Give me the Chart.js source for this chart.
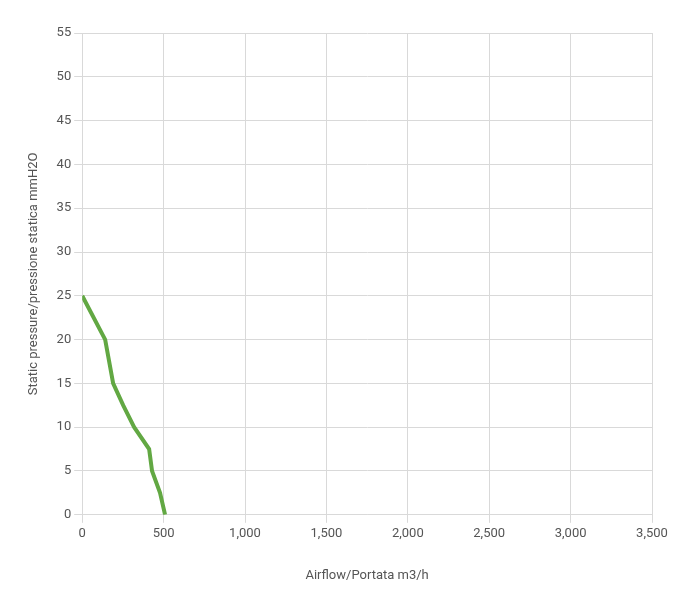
<!DOCTYPE html>
<html lang="en">
<head>
<meta charset="UTF-8">
<script src="https://cdn.jsdelivr.net/npm/chart.js"></script>
<style>
  body { margin: 0; background: #fff; }
  #wrap { width: 700px; height: 610px; }
</style>
</head>
<body>
<div id="wrap"><canvas id="fanChart"></canvas></div>
<script>
  // curve
  const airflow = [0, 141, 190, 252, 319, 411, 429, 478, 509];
  const pressure = [25, 20, 15, 12.5, 10, 7.5, 5, 2.5, 0];

  const points = airflow.map((x, i) => ({ x: x, y: pressure[i] }));
  const font = { family: 'Roboto', size: 13 };

  new Chart(document.getElementById('fanChart'), {
    type: 'line',
    data: {
      datasets: [{
        data: points,
        borderColor: '#62a843',
        borderWidth: 4,
        pointRadius: 0,
        tension: 0
      }]
    },
    options: {
      responsive: true,
      maintainAspectRatio: false,
      animation: false,
      layout: { padding: { top: 33, right: 48, bottom: 22, left: 22 } },
      plugins: { legend: { display: false }, tooltip: { enabled: false } },
      scales: {
        x: {
          type: 'linear', min: 0, max: 3500,
          ticks: { stepSize: 500, color: '#555', font: font },
          grid: { color: '#d9d9d9' },
          border: { color: '#d9d9d9' },
          title: { display: true, text: 'Airflow/Portata m3/h', color: '#555', font: font, padding: { top: 24 } }
        },
        y: {
          min: 0, max: 55,
          ticks: { stepSize: 5, color: '#555', font: font },
          grid: { color: '#d9d9d9' },
          border: { color: '#d9d9d9' },
          title: { display: true, text: 'Static pressure/pressione statica mmH2O', color: '#555', font: font, padding: { bottom: 12 } }
        }
      }
    }
  });
</script>
</body>
</html>
